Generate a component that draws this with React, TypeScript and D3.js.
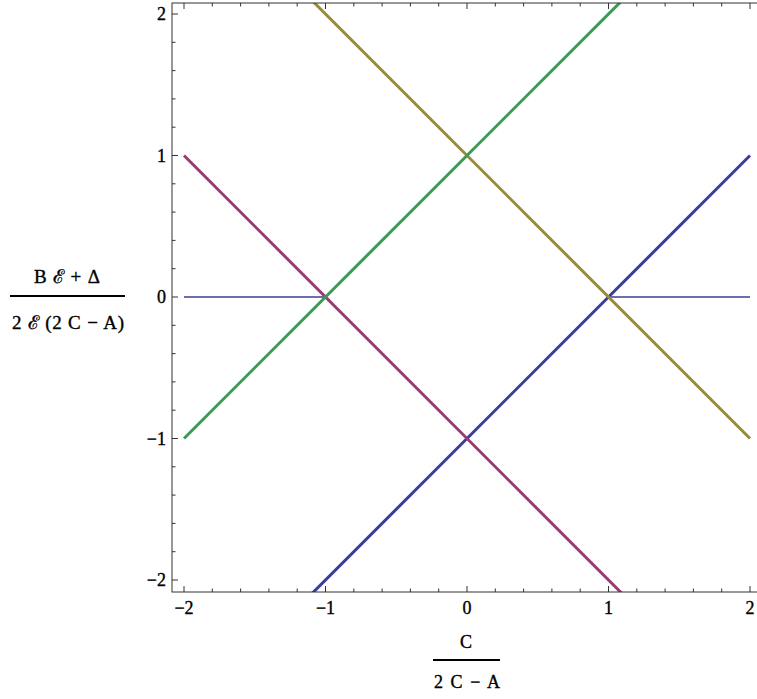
import React from 'react';
import * as d3 from 'd3';

// axis ticks
const xTicks = [-2, -1, 0, 1, 2];
const yTicks = [-2, -1, 0, 1, 2];
const minorStep = 0.2;

// series, as [x, y] end points
const blueFlatLeft: [number, number][] = [[-2, 0], [-1, 0]];
const blueFlatRight: [number, number][] = [[1, 0], [2, 0]];
const blueRising: [number, number][] = [[-1.1, -2.1], [2, 1]];
const magentaFalling: [number, number][] = [[-2, 1], [1.1, -2.1]];
const oliveFalling: [number, number][] = [[-1.1, 2.1], [2, -1]];
const greenRising: [number, number][] = [[-2, -1], [1.1, 2.1]];

const W = 757;
const H = 699;
const font = "'Liberation Serif', serif";

export default function App() {
  const left = 172;
  const right = 763;
  const top = 3;
  const bottom = 592;

  const x = d3.scaleLinear().domain([-2, 2]).range([184, 750]);
  const y = d3.scaleLinear().domain([-2, 2]).range([580, 14]);

  const line = d3.line<[number, number]>()
    .x(d => x(d[0]))
    .y(d => y(d[1]));

  const minors = d3.range(-2.2, 2.21, minorStep).map(v => Math.round(v * 10) / 10);

  const thick = [
    { pts: blueRising, color: '#3d3d99' },
    { pts: magentaFalling, color: '#993d71' },
    { pts: oliveFalling, color: '#998b3d' },
    { pts: greenRising, color: '#3d9956' },
  ];

  const txt = { fontFamily: font, stroke: '#000', strokeWidth: 0.35 };
  const fmt = (v: number) => (v < 0 ? '\u2212' + Math.abs(v) : String(v));

  return (
    <svg width={W} height={H} style={{ position: 'absolute', left: 0, top: 0, background: '#fff' }}>
      <defs>
        <clipPath id="plot">
          <rect x={left} y={top} width={right - left} height={bottom - top} />
        </clipPath>
      </defs>

      <g clipPath="url(#plot)">
        {[blueFlatLeft, blueFlatRight].map((pts, i) => (
          <path key={'f' + i} d={line(pts) || ''} fill="none" stroke="#3d3d99" strokeWidth={1.6} />
        ))}
        {thick.map((s, i) => (
          <path key={'t' + i} d={line(s.pts) || ''} fill="none" stroke={s.color} strokeWidth={3} />
        ))}
      </g>

      {/* ticks */}
      <g stroke="#333" strokeWidth={1}>
        {minors.filter(v => x(v) >= left && x(v) <= right).map(v => {
          const major = xTicks.includes(v);
          const len = major ? 6 : 3.5;
          return (
            <g key={'xt' + v}>
              <line x1={x(v)} x2={x(v)} y1={bottom} y2={bottom - len} />
              <line x1={x(v)} x2={x(v)} y1={top} y2={top + len} />
            </g>
          );
        })}
        {minors.filter(v => y(v) >= top && y(v) <= bottom).map(v => {
          const major = yTicks.includes(v);
          const len = major ? 6 : 3.5;
          return (
            <g key={'yt' + v}>
              <line x1={left} x2={left + len} y1={y(v)} y2={y(v)} />
              <line x1={right} x2={right - len} y1={y(v)} y2={y(v)} />
            </g>
          );
        })}
      </g>

      {/* frame */}
      <rect x={left} y={top} width={right - left} height={bottom - top} fill="none" stroke="#333" strokeWidth={1} />

      {/* tick labels */}
      <g fontSize={18} fill="#000">
        {xTicks.map(v => (
          <text key={'xl' + v} x={x(v)} y={614} textAnchor="middle" style={txt}>
            {fmt(v)}
          </text>
        ))}
        {yTicks.map(v => (
          <text key={'yl' + v} x={166} y={y(v) + 6} textAnchor="end" style={txt}>
            {fmt(v)}
          </text>
        ))}
      </g>

      {/* x axis label */}
      <g fontSize={18} fill="#000">
        <text x={466} y={648} textAnchor="middle" style={txt}>C</text>
        <line x1={433} x2={500} y1={660} y2={660} stroke="#000" strokeWidth={2} />
        <text x={434} y={688} textLength={66} lengthAdjust="spacing" style={txt}>2 C − A</text>
      </g>

      {/* y axis label */}
      <g fontSize={19} fill="#000">
        <text x={34} y={283} textLength={66} lengthAdjust="spacing" style={txt}>B ℰ + Δ</text>
        <line x1={10} x2={125} y1={296} y2={296} stroke="#000" strokeWidth={2} />
        <text x={12} y={329} textLength={112} lengthAdjust="spacing" style={txt}>2 ℰ (2 C − A)</text>
      </g>
    </svg>
  );
}
